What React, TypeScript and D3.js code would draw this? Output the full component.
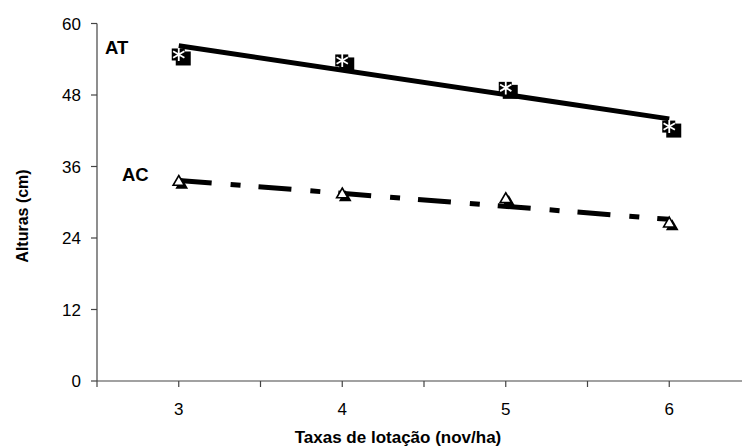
import { useEffect, useRef } from "react";
import * as d3 from "d3";

// stocking rates (nov/ha)
const taxas = [3, 4, 5, 6];
// heights (cm)
const alturaAT = [54.8, 53.8, 49.2, 42.7];
const alturaAC = [33.4, 31.3, 30.5, 26.4];
const yTicks = [0, 12, 24, 36, 48, 60];
const xMinorTicks = [2.5, 3, 3.5, 4, 4.5, 5, 5.5, 6, 6.5];

const font = "'Liberation Sans', Arial, sans-serif";

// least squares line through the points
function fit(xs: number[], ys: number[]) {
  const mx = d3.mean(xs)!;
  const my = d3.mean(ys)!;
  const sxy = d3.sum(xs, (x, i) => (x - mx) * (ys[i] - my));
  const sxx = d3.sum(xs, (x) => (x - mx) ** 2);
  const b = sxy / sxx;
  return (x: number) => my + b * (x - mx);
}

export default function App() {
  const svgRef = useRef<SVGSVGElement>(null);

  useEffect(() => {
    const w = 742;
    const h = 448;
    const svg = d3.select(svgRef.current).attr("width", w).attr("height", h);
    svg.selectAll("*").remove();

    const x = d3.scaleLinear().domain([2.5, 6.5]).range([97, 751]);
    const y = d3.scaleLinear().domain([0, 60]).range([381, 23.5]);
    const axisColor = "#444";

    // y axis
    svg.append("line")
      .attr("x1", 97).attr("x2", 97)
      .attr("y1", y(60)).attr("y2", y(0))
      .attr("stroke", axisColor).attr("stroke-width", 1.2);
    svg.selectAll(".yt").data(yTicks).join("line")
      .attr("x1", 91).attr("x2", 97)
      .attr("y1", (d) => y(d)).attr("y2", (d) => y(d))
      .attr("stroke", axisColor).attr("stroke-width", 1.2);
    svg.selectAll(".yl").data(yTicks).join("text")
      .attr("x", 81).attr("y", (d) => y(d))
      .attr("dy", "0.36em")
      .attr("text-anchor", "end")
      .style("font-family", font).style("font-size", "17px")
      .text((d) => d);

    // x axis
    svg.append("line")
      .attr("x1", 97).attr("x2", 751)
      .attr("y1", 381).attr("y2", 381)
      .attr("stroke", axisColor).attr("stroke-width", 1.2);
    svg.selectAll(".xt").data(xMinorTicks).join("line")
      .attr("x1", (d) => x(d)).attr("x2", (d) => x(d))
      .attr("y1", 381).attr("y2", 387)
      .attr("stroke", axisColor).attr("stroke-width", 1.2);
    svg.selectAll(".xl").data(taxas).join("text")
      .attr("x", (d) => x(d)).attr("y", 409)
      .attr("dy", "0.36em")
      .attr("text-anchor", "middle")
      .style("font-family", font).style("font-size", "17px")
      .text((d) => d);

    // axis titles
    svg.append("text")
      .attr("x", 398).attr("y", 437).attr("dy", "0.36em")
      .attr("text-anchor", "middle")
      .style("font-family", font).style("font-size", "17px").style("font-weight", "bold")
      .text("Taxas de lotação (nov/ha)");
    svg.append("text")
      .attr("transform", "translate(22,216) rotate(-90)")
      .attr("dy", "0.36em")
      .attr("text-anchor", "middle")
      .style("font-family", font).style("font-size", "16px").style("font-weight", "bold")
      .text("Alturas (cm)");

    // trend lines
    const fAT = fit(taxas, alturaAT);
    const fAC = fit(taxas, alturaAC);
    const x0 = d3.min(taxas)!;
    const x1 = d3.max(taxas)!;
    svg.append("line")
      .attr("x1", x(x0)).attr("y1", y(fAT(x0)))
      .attr("x2", x(x1)).attr("y2", y(fAT(x1)))
      .attr("stroke", "#000").attr("stroke-width", 5);
    svg.append("line")
      .attr("x1", x(x0)).attr("y1", y(fAC(x0)))
      .attr("x2", x(x1)).attr("y2", y(fAC(x1)))
      .attr("stroke", "#000").attr("stroke-width", 5)
      .attr("stroke-dasharray", "33 19 10 18");

    // AT markers
    const at = svg.selectAll(".at").data(taxas).join("g")
      .attr("transform", (d, i) => `translate(${x(d)},${y(alturaAT[i])})`);
    at.append("rect").attr("x", -3).attr("y", -3).attr("width", 15).attr("height", 14).attr("fill", "#000");
    at.append("rect").attr("x", -7).attr("y", -6).attr("width", 13).attr("height", 12).attr("fill", "#000");
    at.append("path")
      .attr("d", d3.symbol(d3.symbolAsterisk, 120)())
      .attr("fill", "none").attr("stroke", "#fff").attr("stroke-width", 1.8);

    // AC markers
    const ac = svg.selectAll(".ac").data(taxas).join("g")
      .attr("transform", (d, i) => `translate(${x(d)},${y(alturaAC[i])})`);
    ac.append("path")
      .attr("transform", "translate(3,3)")
      .attr("d", d3.symbol(d3.symbolTriangle, 70)())
      .attr("fill", "#000");
    ac.append("path")
      .attr("d", d3.symbol(d3.symbolTriangle, 55)())
      .attr("fill", "#fff").attr("stroke", "#000").attr("stroke-width", 1.6);

    // series labels
    svg.append("text")
      .attr("x", 105).attr("y", 47).attr("dy", "0.36em")
      .style("font-family", font).style("font-size", "18.5px").style("font-weight", "bold")
      .text("AT");
    svg.append("text")
      .attr("x", 122).attr("y", 174).attr("dy", "0.36em")
      .style("font-family", font).style("font-size", "18.5px").style("font-weight", "bold")
      .text("AC");
  }, []);

  return (
    <svg
      ref={svgRef}
      style={{ position: "absolute", left: 0, top: 0, background: "#fff" }}
    ></svg>
  );
}
